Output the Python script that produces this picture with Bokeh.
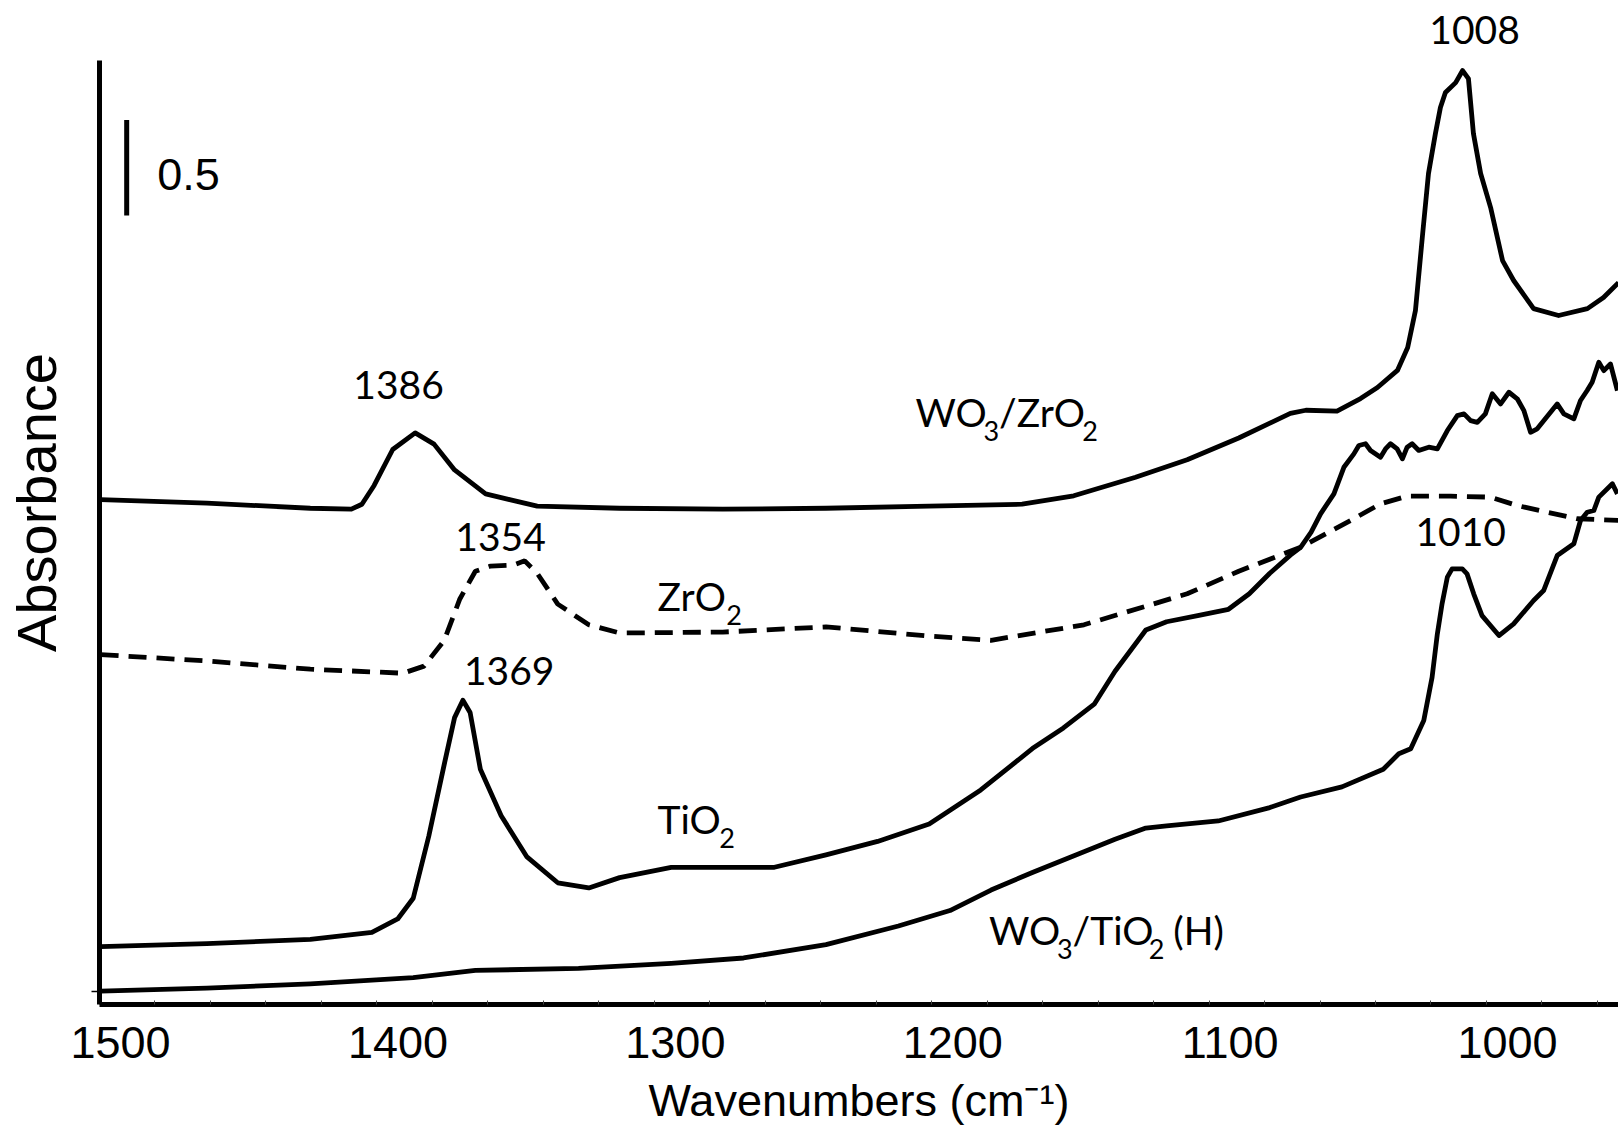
from bokeh.plotting import figure
from bokeh.models import Range1d, FixedTicker, LabelSet, ColumnDataSource, CustomJSTickFormatter
from bokeh.core.properties import value
from bokeh.embed import file_html
from bokeh.resources import INLINE

# ---- data (wavenumber in cm-1, absorbance with stacking offsets) ----
wo3_zro2_wn = [1507.2, 1468.9, 1431.6, 1416.8, 1413.0, 1408.6, 1401.9, 1393.8, 1387.0, 1379.6, 1368.4,
               1349.8, 1320.1, 1282.9, 1245.7, 1208.5, 1175.0, 1156.4, 1134.1, 1115.5, 1096.9, 1078.3,
               1072.7, 1061.5, 1053.0, 1046.9, 1039.7, 1036.0, 1033.2, 1030.6, 1028.5, 1026.0, 1024.2,
               1022.4, 1018.7, 1016.2, 1014.1, 1012.3, 1009.7, 1006.1, 1001.8, 997.8, 990.6, 981.6,
               971.2, 965.4, 960.0]
wo3_zro2_abs = [2.570, 2.552, 2.525, 2.520, 2.546, 2.644, 2.832, 2.919, 2.860, 2.725, 2.600,
                2.536, 2.525, 2.520, 2.525, 2.536, 2.546, 2.590, 2.687, 2.778, 2.892, 3.021,
                3.037, 3.032, 3.098, 3.156, 3.245, 3.365, 3.558, 3.960, 4.274, 4.483, 4.619,
                4.697, 4.749, 4.812, 4.770, 4.483, 4.274, 4.096, 3.819, 3.715, 3.568, 3.532,
                3.568, 3.626, 3.704]

zro2_wn = [1507.2, 1468.9, 1431.6, 1398.2, 1390.6, 1383.3, 1377.7, 1372.1, 1366.6, 1358.4, 1354.3,
           1349.8, 1342.4, 1331.2, 1320.1, 1282.9, 1245.7, 1208.5, 1186.2, 1152.7, 1115.5, 1096.9,
           1074.6, 1056.6, 1045.8, 1036.2, 1020.5, 1006.1, 996.5, 985.7, 974.9, 960.0]
zro2_abs = [1.760, 1.727, 1.684, 1.663, 1.700, 1.835, 2.051, 2.196, 2.223, 2.228, 2.250,
            2.185, 2.024, 1.916, 1.873, 1.878, 1.905, 1.857, 1.835, 1.916, 2.078, 2.196,
            2.321, 2.461, 2.548, 2.588, 2.588, 2.583, 2.539, 2.504, 2.470, 2.461]

tio2_wn = [1507.2, 1468.9, 1431.6, 1409.4, 1400.1, 1394.5, 1388.9, 1383.3, 1379.6, 1376.6, 1374.0,
           1370.3, 1362.8, 1353.5, 1342.4, 1331.2, 1320.1, 1301.5, 1282.9, 1264.3, 1245.7, 1227.1,
           1208.5, 1189.9, 1171.3, 1160.1, 1149.0, 1141.5, 1130.4, 1122.9, 1111.7, 1100.6, 1093.1,
           1085.7, 1078.3, 1074.6, 1070.8, 1067.4, 1062.6, 1059.0, 1055.4, 1053.6, 1051.2, 1049.4,
           1045.8, 1044.0, 1042.2, 1039.8, 1037.9, 1036.2, 1034.4, 1032.0, 1028.4, 1025.3, 1021.7,
           1018.1, 1015.7, 1013.3, 1010.9, 1008.0, 1005.5, 1002.5, 999.5, 996.5, 994.1, 991.7,
           989.3, 986.9, 982.1, 979.7, 976.1, 973.7, 971.3, 969.5, 967.1, 965.3, 962.9, 960.4]
tio2_abs = [0.234, 0.250, 0.272, 0.309, 0.379, 0.487, 0.811, 1.188, 1.431, 1.522, 1.458,
            1.161, 0.918, 0.703, 0.568, 0.541, 0.595, 0.649, 0.649, 0.649, 0.714, 0.784,
            0.875, 1.053, 1.269, 1.377, 1.501, 1.673, 1.889, 1.932, 1.964, 1.997, 2.078,
            2.185, 2.280, 2.321, 2.400, 2.496, 2.600, 2.739, 2.809, 2.853, 2.862, 2.827,
            2.792, 2.835, 2.862, 2.835, 2.783, 2.844, 2.862, 2.827, 2.844, 2.835, 2.931,
            3.009, 3.018, 2.983, 2.974, 3.018, 3.123, 3.070, 3.131, 3.097, 3.035, 2.922,
            2.940, 2.983, 3.070, 3.018, 2.992, 3.088, 3.140, 3.183, 3.288, 3.244, 3.279, 3.140]

wo3_tio2_wn = [1507.2, 1468.9, 1431.6, 1394.5, 1372.1, 1334.9, 1301.5, 1275.4, 1245.7, 1219.6, 1201.0,
               1186.2, 1171.3, 1152.7, 1141.5, 1130.4, 1122.9, 1104.3, 1085.7, 1074.6, 1059.7, 1044.8,
               1039.2, 1034.9, 1030.2, 1027.2, 1025.3, 1023.6, 1021.7, 1020.0, 1016.3, 1014.6, 1012.2,
               1009.2, 1003.1, 997.8, 990.6, 987.0, 982.1, 976.1, 973.7, 971.3, 968.9, 967.1, 962.2, 960.4]
wo3_tio2_abs = [0.002, 0.018, 0.040, 0.072, 0.110, 0.121, 0.147, 0.175, 0.245, 0.342, 0.423,
                0.530, 0.622, 0.730, 0.795, 0.854, 0.865, 0.891, 0.961, 1.016, 1.069, 1.161,
                1.242, 1.268, 1.416, 1.642, 1.869, 2.026, 2.165, 2.208, 2.208, 2.182, 2.078,
                1.964, 1.860, 1.921, 2.043, 2.095, 2.278, 2.339, 2.461, 2.504, 2.513, 2.583, 2.653, 2.600]

# peak annotations
peak_text = ["1008", "1386", "1354", "1369", "1010"]
peak_wn = [1011.9, 1399.8, 1363.0, 1359.9, 1016.9]
peak_abs = [5.025, 3.169, 2.374, 1.672, 2.400]

# sample names: text pieces (text, is_subscript), left edge and baseline
name_parts = [
    [("WO", 0), ("3", 1), ("/ZrO", 0), ("2", 1)],
    [("ZrO", 0), ("2", 1)],
    [("TiO", 0), ("2", 1)],
    [("WO", 0), ("3", 1), ("/TiO", 0), ("2", 1), ("(H)", 0)],
]
name_wn = [1213.4, 1306.4, 1306.4, 1186.9]
name_abs = [2.948, 1.986, 0.821, 0.245]

# absorbance scale bar
scale_bar_wn = [1497.8]
scale_bar_start = [4.054]
scale_bar_len = [0.5]
scale_text = ["0.5"]
scale_text_wn = [1486.8]
scale_text_abs = [4.269]

x_tick_values = [1500, 1400, 1300, 1200, 1100, 1000]
x_minor_ticks = [1507.6 - 20 * k for k in range(28)]
y_tick_values = [0]

# ---- styling constants ----
MAIN_PX = 39
SUB_PX = 27
SUB_DROP = -14
GAP_BEFORE_PAREN = 9
LATO_EM = {"W": 0.96, "O": 0.78, "Z": 0.62, "r": 0.36, "T": 0.56, "i": 0.24, "/": 0.37,
           " ": 0.19, "(": 0.31, ")": 0.31, "H": 0.76}
DIGIT_EM = 0.58


def text_width(s, px):
    return sum(LATO_EM.get(c, DIGIT_EM) for c in s) * px


main_d = dict(x=[], y=[], t=[], dx=[])
sub_d = dict(x=[], y=[], t=[], dx=[])
for parts, wn, ab in zip(name_parts, name_wn, name_abs):
    off = 0.0
    for txt, is_sub in parts:
        if txt.startswith("("):
            off += GAP_BEFORE_PAREN
        d = sub_d if is_sub else main_d
        d["x"].append(wn)
        d["y"].append(ab)
        d["t"].append(txt)
        d["dx"].append(off)
        off += text_width(txt, SUB_PX if is_sub else MAIN_PX)

# ---- figure ----
p = figure(frame_width=1519, frame_height=1004,
           x_range=Range1d(1507.6, 960.0), y_range=Range1d(-0.068, 5.178),
           output_backend="svg", toolbar_location=None,
           min_border_left=99, min_border_right=0, min_border_top=0, min_border_bottom=120)
p.grid.visible = False
p.outline_line_color = None
p.background_fill_color = "white"
p.border_fill_color = "white"

line_w = 4.8
p.line(wo3_zro2_wn, wo3_zro2_abs, line_color="black", line_width=line_w, line_join="round")
p.line(zro2_wn, zro2_abs, line_color="black", line_width=line_w, line_dash="18 10")
p.line(tio2_wn, tio2_abs, line_color="black", line_width=line_w, line_join="round")
p.line(wo3_tio2_wn, wo3_tio2_abs, line_color="black", line_width=line_w, line_join="round")

# scale bar
p.segment(x0=scale_bar_wn, y0=scale_bar_start,
          x1=scale_bar_wn, y1=[s + l for s, l in zip(scale_bar_start, scale_bar_len)],
          line_color="black", line_width=5)

peak_src = ColumnDataSource(dict(x=peak_wn, y=peak_abs, t=peak_text))
p.add_layout(LabelSet(x="x", y="y", text="t", source=peak_src, text_font=value("Lato"),
                      text_font_size="39px", text_align="center", text_baseline="middle",
                      text_color="black"))

p.add_layout(LabelSet(x="x", y="y", text="t", x_offset="dx", source=ColumnDataSource(main_d),
                      text_font=value("Lato"), text_font_size="%dpx" % MAIN_PX,
                      text_align="left", text_baseline="alphabetic", text_color="black"))
p.add_layout(LabelSet(x="x", y="y", text="t", x_offset="dx", y_offset=SUB_DROP,
                      source=ColumnDataSource(sub_d),
                      text_font=value("Lato"), text_font_size="%dpx" % SUB_PX,
                      text_align="left", text_baseline="alphabetic", text_color="black"))

scale_src = ColumnDataSource(dict(x=scale_text_wn, y=scale_text_abs, t=scale_text))
p.add_layout(LabelSet(x="x", y="y", text="t", source=scale_src, text_font=value("Liberation Sans"),
                      text_font_size="45px", text_align="left", text_baseline="middle",
                      text_color="black"))

# x axis
xa = p.xaxis[0]
xa.ticker = FixedTicker(ticks=x_tick_values, minor_ticks=x_minor_ticks)
xa.axis_line_width = 5
xa.axis_line_color = "black"
xa.major_tick_in = 0
xa.major_tick_out = 0
xa.minor_tick_in = 4
xa.minor_tick_out = 0
xa.minor_tick_line_color = "#444444"
xa.major_label_text_font = "Liberation Sans"
xa.major_label_text_font_size = "45px"
xa.major_label_text_color = "black"
xa.major_label_standoff = 22
xa.axis_label = "Wavenumbers (cm\u207b\u00b9)"
xa.axis_label_text_font = "Liberation Sans"
xa.axis_label_text_font_size = "45px"
xa.axis_label_text_font_style = "normal"
xa.axis_label_text_color = "black"
xa.axis_label_standoff = 14

# y axis
ya = p.yaxis[0]
ya.ticker = FixedTicker(ticks=y_tick_values)
ya.formatter = CustomJSTickFormatter(code="return ''")
ya.bounds = (-0.068, 4.864)
ya.axis_line_width = 5
ya.axis_line_color = "black"
ya.major_tick_in = 0
ya.major_tick_out = 8
ya.major_tick_line_width = 1.5
ya.minor_tick_in = 0
ya.minor_tick_out = 0
ya.major_label_standoff = 0
ya.axis_label = "Absorbance"
ya.axis_label_text_font = "Liberation Sans"
ya.axis_label_text_font_size = "56px"
ya.axis_label_text_font_style = "normal"
ya.axis_label_text_color = "black"
ya.axis_label_standoff = 24

open("out.html", "w").write(file_html(p, INLINE))
